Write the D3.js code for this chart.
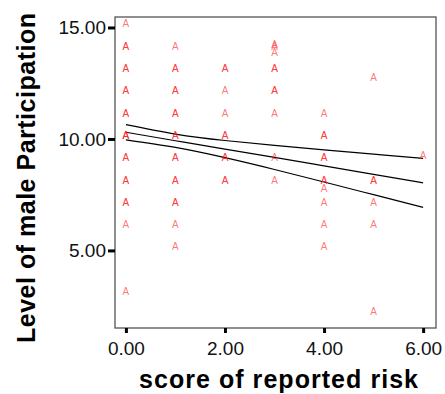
<!DOCTYPE html>
<html lang="en">
<head>
<meta charset="UTF-8" />
<title>Male participation vs reported risk</title>
<style>
  body { margin: 0; background: #fff; }
  svg { display: block; font-family: "Liberation Sans", Arial, sans-serif; }
</style>
</head>
<body>
<svg id="chart" width="445" height="394"></svg>
<script src="https://d3js.org/d3.v7.min.js"></script>
<script>
// scatter points (x = score of reported risk, y = level of male participation)
// repeated pairs are overlapping cases, which show up darker
const riskScores = [
  0, 0, 0, 0, 0, 0, 0, 0, 0, 0, 0, 0, 0, 0, 0, 0, 0, 0, 0, 0,
  1, 1, 1, 1, 1, 1, 1, 1, 1, 1, 1, 1, 1, 1, 1, 1, 1,
  2, 2, 2, 2, 2, 2, 2, 2, 2, 2,
  3, 3, 3, 3, 3, 3, 3, 3, 3, 3,
  4, 4, 4, 4, 4, 4, 4, 4, 4, 4, 4,
  5, 5, 5, 5, 5, 5,
  6
];
const participation = [
  15, 14, 14, 13, 13, 12, 12, 11, 11, 10, 10, 10, 9, 9, 8, 8, 7, 7, 6, 3,
  14, 13, 13, 12, 12, 11, 11, 10, 10, 9, 9, 8, 8, 7, 7, 6, 5,
  13, 13, 12, 11, 10, 10, 9, 9, 8, 8,
  14.1, 14, 13.7, 13, 13, 12, 12, 11, 9, 8,
  11, 10, 10, 9, 9, 8, 8, 7.6, 7, 6, 5,
  12.6, 8, 8, 7, 6, 2.1,
  9.1
];

// fit line with its 95% band, read at whole risk scores
const bandX = [0, 1, 2, 3, 4, 5, 6];
const fitY = [10.30, 9.92, 9.54, 9.17, 8.79, 8.41, 8.03];
const upperY = [10.64, 10.22, 9.93, 9.71, 9.51, 9.32, 9.13];
const lowerY = [9.96, 9.62, 9.16, 8.63, 8.07, 7.50, 6.93];

const xTicks = [0, 2, 4, 6];
const yTicks = [5, 10, 15];

const svg = d3.select("#chart");
const plotLeft = 115, plotRight = 436, plotTop = 17, plotBottom = 328;

const x = d3.scaleLinear().domain([-0.22, 6.26]).range([plotLeft, plotRight]);
const y = d3.scaleLinear().domain([1.52, 15.47]).range([plotBottom, plotTop]);

// plot frame
svg.append("rect")
  .attr("x", plotLeft)
  .attr("y", plotTop)
  .attr("width", plotRight - plotLeft)
  .attr("height", plotBottom - plotTop)
  .attr("fill", "none")
  .attr("stroke", "#555")
  .attr("stroke-width", 1.3);

// axes
const fmt = d3.format(".2f");
const yAxis = svg.append("g")
  .attr("transform", `translate(${plotLeft},0)`)
  .call(d3.axisLeft(y).tickValues(yTicks).tickFormat(fmt).tickSize(7).tickPadding(2).tickSizeOuter(0));
const xAxis = svg.append("g")
  .attr("transform", `translate(0,${plotBottom})`)
  .call(d3.axisBottom(x).tickValues(xTicks).tickFormat(fmt).tickSize(5).tickPadding(9).tickSizeOuter(0));

[xAxis, yAxis].forEach((g) => {
  g.select(".domain").remove();
  g.selectAll(".tick line").attr("stroke", "#000").attr("stroke-width", 3);
  g.selectAll(".tick text")
    .attr("fill", "#111")
    .style("font-size", "19px")
    .style("font-family", "'Liberation Sans', Arial, sans-serif");
});

// regression line and confidence band
const line = d3.line()
  .x((d) => x(d[0]))
  .y((d) => y(d[1]))
  .curve(d3.curveNatural);

[upperY, fitY, lowerY].forEach((ys) => {
  svg.append("path")
    .datum(bandX.map((v, i) => [v, ys[i]]))
    .attr("d", line)
    .attr("fill", "none")
    .attr("stroke", "#000")
    .attr("stroke-width", 1.2);
});

// markers drawn as the letter A
svg.append("g")
  .selectAll("text")
  .data(riskScores.map((v, i) => [v, participation[i]]))
  .join("text")
  .attr("x", (d) => x(d[0]))
  .attr("y", (d) => y(d[1]))
  .attr("text-anchor", "middle")
  .attr("fill", "#ff1a1a")
  .attr("fill-opacity", 0.62)
  .style("font-size", "10px")
  .text("A");

// axis titles
svg.append("text")
  .attr("x", 278.5)
  .attr("y", 388)
  .attr("text-anchor", "middle")
  .attr("textLength", 279)
  .style("font-size", "25px")
  .style("font-weight", "bold")
  .text("score of reported risk");

svg.append("text")
  .attr("transform", "translate(35,178) rotate(-90)")
  .attr("text-anchor", "middle")
  .attr("textLength", 330)
  .style("font-size", "25px")
  .style("font-weight", "bold")
  .text("Level of male Participation");
</script>
</body>
</html>
